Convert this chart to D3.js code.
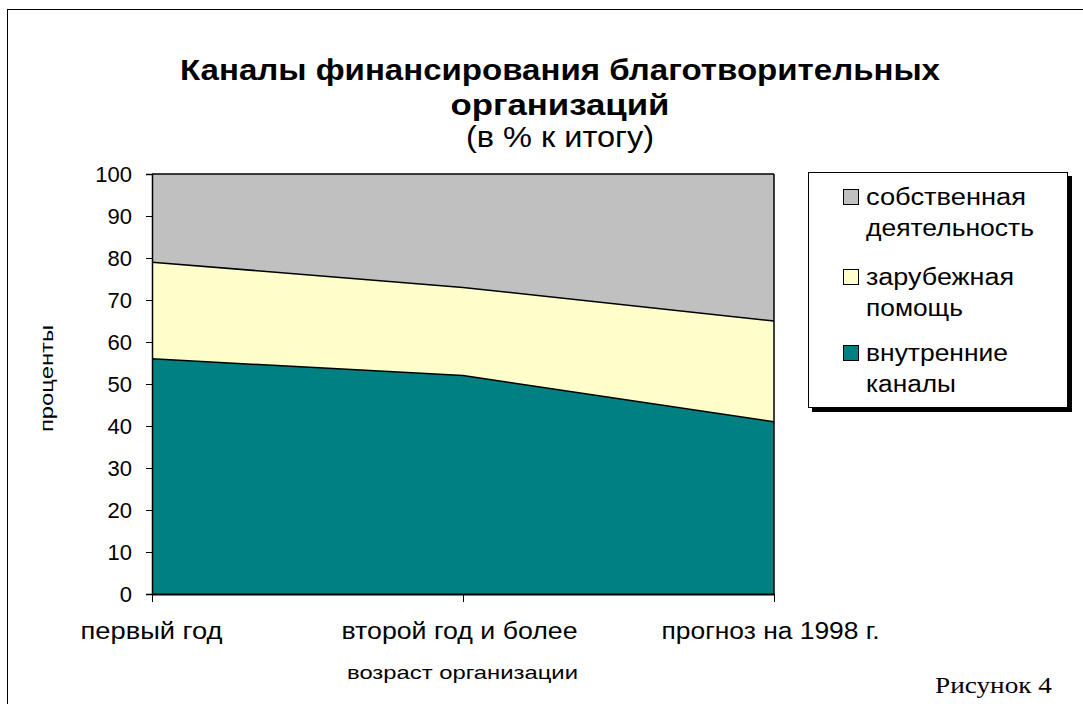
<!DOCTYPE html>
<html>
<head>
<meta charset="utf-8">
<script src="https://cdn.jsdelivr.net/npm/d3@7.9.0/dist/d3.min.js"></script>
<style>
  body { margin: 0; background: #fff; }
  svg { display: block; font-family: "Liberation Sans", Arial, sans-serif; }
</style>
</head>
<body>
<svg id="chart" width="1083" height="704"></svg>
<script>
// data
let categories = ["первый год", "второй год и более", "прогноз на 1998 г."];
let internal = [56, 52, 41];   // внутренние каналы
let foreign = [23, 21, 24];    // зарубежная помощь
let own = [21, 27, 35];        // собственная деятельность
let yTicks = [0, 10, 20, 30, 40, 50, 60, 70, 80, 90, 100];

let seriesKeys = ["internal", "foreign", "own"];
let colors = d3.scaleOrdinal(seriesKeys, ["#008080", "#ffffcc", "#c0c0c0"]);

// widths of the labels in the original (the old Arial there runs wider)
let catWidths = [142, 236, 218];

let rows = categories.map((c, i) => ({
  cat: c, internal: internal[i], foreign: foreign[i], own: own[i]
}));

let svg = d3.select("#chart");

// outer frame
svg.append("rect")
  .attr("x", 7.5).attr("y", 9.5)
  .attr("width", 1083).attr("height", 720)
  .attr("fill", "none").attr("stroke", "#000").attr("stroke-width", 1);

let plot = { left: 152, right: 774, top: 174, bottom: 594 };

let x = d3.scalePoint()
  .domain(categories)
  .range([plot.left, plot.right])
  .padding(0);

let y = d3.scaleLinear()
  .domain([0, 100])
  .range([plot.bottom, plot.top]);

let stacked = d3.stack().keys(seriesKeys)(rows);

let area = d3.area()
  .x(d => x(d.data.cat))
  .y0(d => y(d[0]))
  .y1(d => y(d[1]));

let g = svg.append("g");
g.selectAll("path.area")
  .data(stacked)
  .join("path")
  .attr("class", "area")
  .attr("d", area)
  .attr("fill", d => colors(d.key))
  .attr("stroke", "none");

// boundary lines between the layers
let topLine = d3.line()
  .x(d => x(d.data.cat))
  .y(d => y(d[1]));
g.selectAll("path.edge")
  .data(stacked)
  .join("path")
  .attr("class", "edge")
  .attr("d", topLine)
  .attr("fill", "none")
  .attr("stroke", "#000")
  .attr("stroke-width", 1.5);

g.append("line")
  .attr("x1", plot.right).attr("x2", plot.right)
  .attr("y1", plot.top).attr("y2", plot.bottom)
  .attr("stroke", "#000").attr("stroke-width", 1.5);

// y axis
let yAxis = svg.append("g")
  .attr("transform", `translate(${plot.left},0)`)
  .call(d3.axisLeft(y).tickValues(yTicks).tickSize(6).tickPadding(14));
yAxis.select(".domain").attr("stroke", "#000").attr("stroke-width", 1.5);
yAxis.selectAll("text")
  .attr("font-size", 22)
  .attr("font-family", "Liberation Sans, Arial, sans-serif")
  .attr("fill", "#000");

// x axis
let xAxis = svg.append("g")
  .attr("transform", `translate(0,${plot.bottom})`)
  .call(d3.axisBottom(x).tickSize(8).tickPadding(21).tickSizeOuter(0));
xAxis.select(".domain").attr("stroke", "#000").attr("stroke-width", 2);
xAxis.selectAll("text")
  .attr("font-size", 23)
  .attr("font-family", "Liberation Sans, Arial, sans-serif")
  .attr("fill", "#000")
  .attr("textLength", (d, i) => catWidths[i])
  .attr("lengthAdjust", "spacingAndGlyphs")
  .attr("dx", (d, i) => i === 0 ? -1 : -4);

// titles
let titleLines = [
  { text: "Каналы финансирования благотворительных", y: 80, w: 760, bold: true },
  { text: "организаций", y: 115, w: 219, bold: true },
  { text: "(в % к итогу)", y: 147, w: 188, bold: false }
];
svg.selectAll("text.title")
  .data(titleLines)
  .join("text")
  .attr("class", "title")
  .attr("x", d => 560 - d.w / 2)
  .attr("y", d => d.y)
  .attr("font-size", 29)
  .attr("font-weight", d => d.bold ? "bold" : "normal")
  .attr("textLength", d => d.w)
  .attr("lengthAdjust", "spacingAndGlyphs")
  .attr("fill", "#000")
  .text(d => d.text);

svg.append("text")
  .attr("x", 347).attr("y", 679)
  .attr("font-size", 19)
  .attr("textLength", 231)
  .attr("lengthAdjust", "spacingAndGlyphs")
  .text("возраст организации");

svg.append("text")
  .attr("transform", "translate(53,432) rotate(-90)")
  .attr("font-size", 19)
  .attr("textLength", 107)
  .attr("lengthAdjust", "spacingAndGlyphs")
  .text("проценты");

// legend
let lg = svg.append("g");
lg.append("rect")
  .attr("x", 812).attr("y", 176).attr("width", 260).attr("height", 236)
  .attr("fill", "#000");
lg.append("rect")
  .attr("x", 808.5).attr("y", 172.5).attr("width", 259).attr("height", 235)
  .attr("fill", "#fff").attr("stroke", "#000").attr("stroke-width", 1);

let legendItems = [
  { key: "own", lines: ["собственная", "деятельность"], widths: [160, 168], y: 197 },
  { key: "foreign", lines: ["зарубежная", "помощь"], widths: [148, 97], y: 277 },
  { key: "internal", lines: ["внутренние", "каналы"], widths: [142, 90], y: 353 }
];
let li = lg.selectAll("g.item")
  .data(legendItems)
  .join("g")
  .attr("class", "item")
  .attr("transform", d => `translate(843,${d.y})`);
li.append("rect")
  .attr("x", 0.5).attr("y", -7.5).attr("width", 15).attr("height", 15)
  .attr("fill", d => colors(d.key)).attr("stroke", "#000").attr("stroke-width", 1);
li.selectAll("text")
  .data(d => d.lines.map((t, i) => ({ t, w: d.widths[i] })))
  .join("text")
  .attr("x", 23)
  .attr("y", (d, i) => 8 + i * 31)
  .attr("font-size", 23)
  .attr("textLength", d => d.w)
  .attr("lengthAdjust", "spacingAndGlyphs")
  .attr("fill", "#000")
  .text(d => d.t);

svg.append("text")
  .attr("x", 935).attr("y", 693)
  .attr("font-family", "Liberation Serif, Times New Roman, serif")
  .attr("font-size", 23)
  .attr("textLength", 117)
  .attr("lengthAdjust", "spacingAndGlyphs")
  .text("Рисунок 4");
</script>
</body>
</html>
